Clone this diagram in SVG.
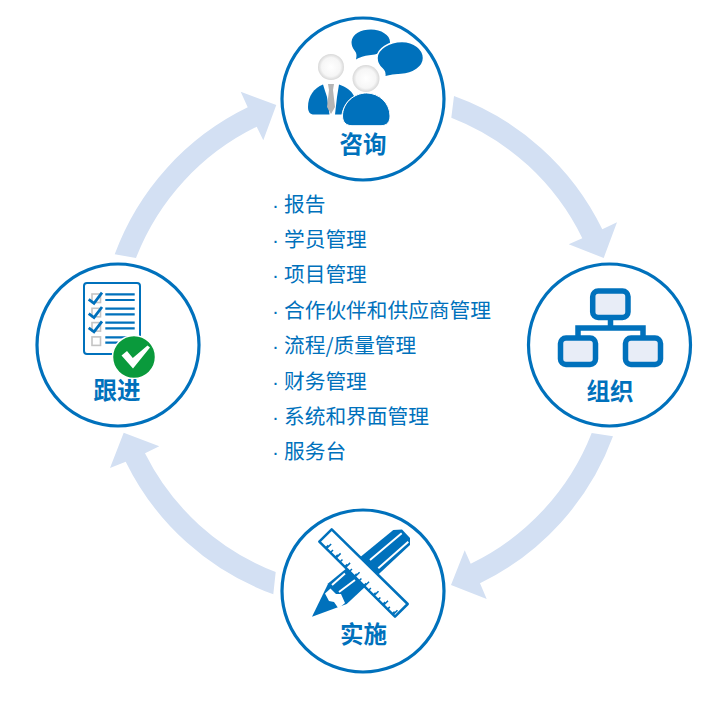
<svg xmlns="http://www.w3.org/2000/svg" width="718" height="703" viewBox="0 0 718 703">
<defs>
<radialGradient id="head" cx="50%" cy="50%" r="50%"><stop offset="0" stop-color="#ffffff"/><stop offset="0.72" stop-color="#f6f6f6"/><stop offset="1" stop-color="#d8d8d8"/></radialGradient>
</defs>
<style>
.ring{fill:#fff;stroke:#0071bc;stroke-width:3.200}
.arrow{fill:#d3e0f3}
.blue{fill:#0071bc}
.title{font-family:"Noto Sans CJK SC","Noto Sans",sans-serif;font-weight:700;font-size:23.500px;fill:#0071bc;text-anchor:middle}
.item{font-family:"Noto Sans CJK SC","Liberation Sans",sans-serif;font-size:20.700px;fill:#0071bc}
.dot{font-family:"Liberation Sans",sans-serif}
.box{fill:#e8edf7;stroke:#0071bc;stroke-width:5.500}
.rule{stroke:#0071bc;stroke-width:2.200;fill:none}
.cb{fill:#fff;stroke:#c4c4c4;stroke-width:1.600}
.ck{fill:none;stroke:#0071bc;stroke-width:2.800}
</style>
<rect width="718" height="703" fill="#fff"/>
<g id="connectors">
<path class="arrow" d="M454 96A265 265 0 0 1 602.300 229.300L617 222.300L603.700 258L568.700 244.300L582.300 238.300A244 244 0 0 0 451.300 117.700Z"/>
<path class="arrow" d="M613 436.300A265 265 0 0 1 480 583.300L486.700 599L451 585L464.700 550.300L470.700 563.700A244 244 0 0 0 591.700 433Z"/>
<path class="arrow" d="M273.300 594.300A265 265 0 0 1 125.700 461.700L110 468L123.700 432.700L159.300 446.300L145 453.300A244 244 0 0 0 275.700 572Z"/>
<path class="arrow" d="M114.700 254.300A265 265 0 0 1 247.700 107.300L240.700 91.700L276.300 105L263.300 140.300L256.700 126.700A244 244 0 0 0 136 258Z"/>
</g>
<g id="node-consult">
<circle class="ring" cx="363" cy="99" r="81"/>
<path class="blue" d="M351.500 42C352 34 361 29.500 371 29.500C381 29.500 390 35 390 42C390 49 381 54 371 55C366 55.500 362 56 356 59.500C357 55 356.500 53 354.500 50.500C352.500 48 351.500 45 351.500 42Z"/>
<path class="blue" d="M377 58C377 49 389 41.500 402 41.500C414 41.500 423.500 49 423.500 58C423.500 67 413 74 401 74.500C396 74.700 390 75.500 384.500 77C385.500 73 385 71 382 68.500C379 66 377 62 377 58Z" stroke="#fff" stroke-width="1.500"/>
<path class="blue" d="M323 84.500C314 88 308 96 308 107C308 112 310 114.500 314 114.500H329.500L327 97Z"/>
<path class="blue" d="M339 84.500C346 87 351 90 354 96C347 100 343 107 341.500 114.500H335L337 97Z"/>
<path d="M328 84H334L333 90L335 107L331 114L327 107L329 90Z" fill="#b5b5b5"/>
<circle cx="331" cy="67" r="13" fill="url(#head)"/>
<circle cx="366" cy="78.500" r="13.500" fill="url(#head)"/>
<path class="blue" d="M366.500 93C379 93 390 103 390 116C390 122 387 125.700 381 125.700H352C346 125.700 342.500 122 342.500 116C342.500 103 354 93 366.500 93Z" stroke="#fff" stroke-width="1"/>
<text class="title" x="363" y="153">咨询</text>
</g>
<g id="node-organize">
<circle class="ring" cx="609.500" cy="345" r="81"/>
<path class="rule" d="M610.500 320V328M578 336V328H643V336" style="stroke-width:5.500"/>
<rect class="box" x="592.700" y="291" width="35.300" height="26.500" rx="5.500"/>
<rect class="box" x="560.500" y="338" width="35" height="26.500" rx="5.500"/>
<rect class="box" x="625.500" y="338" width="35" height="26.500" rx="5.500"/>
<text class="title" x="610" y="400">组织</text>
</g>
<g id="node-implement">
<circle class="ring" cx="363" cy="591" r="81"/>
<path class="blue" d="M312 616.700L328.300 583.300L393.300 530L402 529.500L410 538L410 545L346.700 604Z"/>
<path fill="#fff" d="M325 593.500L330.500 588.500L336 594L341 594L345 603L338.500 608.500L334 602L329 601Z"/>
<path d="M370 560L401.700 533.300M378.300 568.300L408.300 541.700M332 585L345 573.500M339 592L355 580" stroke="#fff" stroke-width="2" fill="none"/>
<path d="M331.700 529.300L319.300 541.700L395 616.700L407.700 604Z" fill="#fff" stroke="#0071bc" stroke-width="2.500" stroke-linejoin="round"/>
<line x1="326.500" y1="546" x2="397" y2="616.500" stroke="#0071bc" stroke-width="3.500" stroke-dasharray="1.500 5.200"/>
<line x1="328.500" y1="545.500" x2="396" y2="613" stroke="#0071bc" stroke-width="6" stroke-dasharray="1.500 11.900"/>
<text class="title" x="363.500" y="643">实施</text>
</g>
<g id="node-track">
<circle class="ring" cx="118" cy="345" r="81"/>
<rect x="84" y="283" width="56" height="71" rx="3" fill="#fff" stroke="#0071bc" stroke-width="2"/>
<path class="rule" d="M105.300 294.300H134.700M105.300 300H134.700M105.300 308.700H134.700M105.300 314.300H134.700M105.300 322.700H134.700M105.300 328.300H134.700M105.300 337.300H127M105.300 342.700H118"/>
<rect class="cb" x="92" y="294" width="8.500" height="8.500"/>
<rect class="cb" x="92" y="308.300" width="8.500" height="8.500"/>
<rect class="cb" x="92" y="322.600" width="8.500" height="8.500"/>
<rect class="cb" x="92" y="336.900" width="8.500" height="8.500"/>
<path class="ck" d="M88.700 299.300L94 303.300L102 292.700M88.700 313.600L94 317.600L102 307M88.700 327.900L94 331.900L102 321.300"/>
<circle cx="134" cy="357" r="21.500" fill="#0a9a3c" stroke="#fff" stroke-width="1.500"/>
<path fill="#fff" d="M121.500 355.500L127 351L132.800 358L147.500 345.500L150 347.500L133 368.500Z"/>
<text class="title" x="117" y="399">跟进</text>
</g>
<g id="services">
<text class="item" y="211.500"><tspan class="dot" x="272">·</tspan><tspan x="284">报告</tspan></text>
<text class="item" y="247"><tspan class="dot" x="272">·</tspan><tspan x="284">学员管理</tspan></text>
<text class="item" y="282.300"><tspan class="dot" x="272">·</tspan><tspan x="284">项目管理</tspan></text>
<text class="item" y="317.800"><tspan class="dot" x="272">·</tspan><tspan x="284">合作伙伴和供应商管理</tspan></text>
<text class="item" y="353.200"><tspan class="dot" x="272">·</tspan><tspan x="284">流程/质量管理</tspan></text>
<text class="item" y="388.600"><tspan class="dot" x="272">·</tspan><tspan x="284">财务管理</tspan></text>
<text class="item" y="424"><tspan class="dot" x="272">·</tspan><tspan x="284">系统和界面管理</tspan></text>
<text class="item" y="459.400"><tspan class="dot" x="272">·</tspan><tspan x="284">服务台</tspan></text>
</g>
</svg>
